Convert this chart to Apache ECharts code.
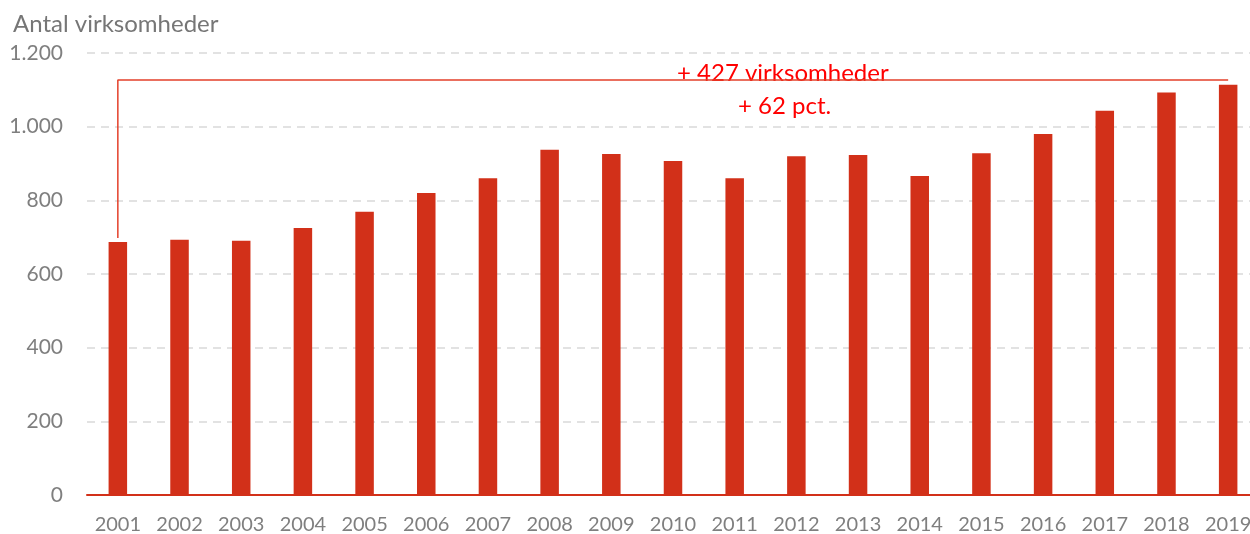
<!DOCTYPE html>
<html>
<head>
<meta charset="utf-8">
<script src="https://cdn.jsdelivr.net/npm/echarts@6/dist/echarts.min.js"></script>
<style>
  html, body { margin: 0; padding: 0; background: #fff; }
  #chart { width: 1250px; height: 534px; }
</style>
</head>
<body>
<div id="chart"></div>
<script>
// data
const years = ['2001', '2002', '2003', '2004', '2005', '2006', '2007', '2008', '2009', '2010',
  '2011', '2012', '2013', '2014', '2015', '2016', '2017', '2018', '2019'];
const firms = [687, 693, 690, 725, 769, 820, 860, 937, 926, 907,
  860, 920, 923, 866, 928, 980, 1043, 1093, 1114];
const yTicks = [0, 200, 400, 600, 800, 1000, 1200];
const bracketLevel = 1127;

const axisFont = 'Lato, "Noto Sans", sans-serif';
const red = '#d23019';

const first = firms[0];
const last = firms[firms.length - 1];
const diff = last - first;
const pct = Math.round(diff / first * 100);

// bracket from first to last year
const bracket = [
  [years[0], first + 11],
  [years[0], bracketLevel],
  [years[years.length - 1], bracketLevel]
];

const chart = echarts.init(document.getElementById('chart'));

const option = {
  animation: false,
  textStyle: { fontFamily: axisFont },
  // plot runs a bit past the right edge, as in the original (2019 is clipped)
  grid: { left: 87, width: 1172, top: 53, bottom: 39, outerBoundsMode: 'none', containLabel: false },
  title: {
    text: 'Antal virksomheder',
    left: 8,
    top: 7,
    textStyle: { fontFamily: axisFont, fontSize: 24, fontWeight: 'normal', color: '#767676' }
  },
  graphic: [
    {
      type: 'text',
      left: 677,
      top: 61,
      style: { text: '+ ' + diff + ' virksomheder', fill: '#ff0000', font: '24px ' + axisFont }
    },
    {
      type: 'text',
      left: 738,
      top: 94,
      style: { text: '+ ' + pct + ' pct.', fill: '#ff0000', font: '24px ' + axisFont }
    }
  ],
  xAxis: {
    type: 'category',
    data: years,
    axisLine: { lineStyle: { color: red, width: 2 } },
    axisTick: { inside: true, length: 7, lineStyle: { color: red, width: 1.5 } },
    axisLabel: { color: '#7f7f7f', fontSize: 20, margin: 20, fontFamily: axisFont }
  },
  yAxis: {
    type: 'value',
    min: yTicks[0],
    max: yTicks[yTicks.length - 1],
    interval: yTicks[1] - yTicks[0],
    axisLine: { show: false },
    axisTick: { show: false },
    axisLabel: {
      color: '#7f7f7f',
      fontSize: 21,
      margin: 24,
      fontFamily: axisFont,
      formatter: v => String(v).replace(/\B(?=(\d{3})+(?!\d))/g, '.')
    },
    splitLine: { lineStyle: { color: '#d9d9d9', width: 1.5, type: [8, 6] } }
  },
  series: [
    {
      type: 'bar',
      data: firms,
      barWidth: '30%',
      itemStyle: { color: red }
    },
    {
      type: 'line',
      data: bracket,
      showSymbol: false,
      silent: true,
      lineStyle: { color: '#e4402a', width: 1.5 },
      z: 5
    }
  ]
};

chart.setOption(option);
</script>
</body>
</html>
